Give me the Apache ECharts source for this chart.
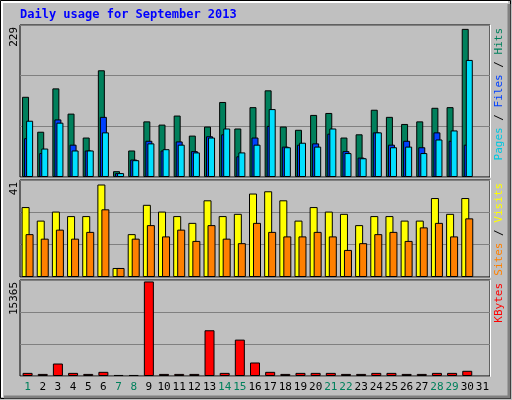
<!DOCTYPE html>
<html>
<head>
<meta charset="UTF-8">
<script src="https://cdn.jsdelivr.net/npm/echarts@6/dist/echarts.min.js"></script>
</head>
<body style="margin:0;background:#c0c0c0">
<div id="chart" style="width:512px;height:400px;"></div>
<script>
// days of the month, weekend days drawn in green
var days = [];
for (var d = 1; d <= 31; d++) days.push(String(d));
var weekend = [1, 7, 8, 14, 15, 21, 22, 28, 29];

var hits   = [124, 70, 137, 98, 61, 165, 9, 41, 86, 81, 95, 64, 78, 116, 75, 108, 134, 78, 73, 96, 99, 61, 66, 104, 93, 82, 86, 107, 108, 229];
var files  = [60, 37, 89, 50, 41, 93, 6, 27, 56, 41, 55, 40, 63, 66, 32, 61, 79, 47, 50, 52, 67, 40, 30, 69, 50, 56, 46, 69, 56, 50];
var pages  = [87, 44, 84, 41, 41, 69, 6, 26, 52, 43, 50, 38, 61, 75, 38, 50, 105, 46, 53, 47, 75, 37, 29, 69, 46, 47, 37, 58, 72, 181];
var visits = [31, 25, 29, 27, 27, 41, 4, 19, 32, 29, 27, 24, 34, 27, 28, 37, 38, 34, 25, 31, 29, 28, 23, 27, 27, 25, 25, 35, 28, 35];
var sites  = [19, 17, 21, 17, 20, 30, 4, 17, 23, 18, 21, 16, 23, 17, 15, 24, 20, 18, 18, 20, 18, 12, 15, 19, 20, 16, 22, 24, 18, 26];
var kbytes = [507, 338, 2027, 507, 338, 676, 170, 170, 15365, 338, 338, 338, 7432, 507, 5911, 2196, 676, 338, 507, 507, 507, 338, 338, 507, 507, 338, 338, 507, 507, 845];

var font = 'DejaVu Sans Mono';
// [top, height, label, axis max]
var panels = [[25, 152, 229, 235], [180, 97, 41, 43], [280, 96, 15365, 15600]];

function xAxis(i, showLabels) {
  return {
    type: 'category', gridIndex: i, data: days,
    axisLine: {show: false}, axisTick: {show: false},
    axisLabel: {
      show: showLabels, interval: 0, margin: 6, fontFamily: font, fontSize: 11,
      formatter: function (v) { return weekend.indexOf(+v) >= 0 ? '{w|' + v + '}' : '{n|' + v + '}'; },
      rich: {w: {color: '#00805c', fontFamily: font, fontSize: 11}, n: {color: '#000', fontFamily: font, fontSize: 11}}
    }
  };
}
function yAxis(i, max) {
  return {
    type: 'value', gridIndex: i, min: 0, max: max, interval: max / 3,
    axisLabel: {show: false}, axisLine: {show: false}, axisTick: {show: false},
    splitLine: {lineStyle: {color: '#808080', width: 1}}
  };
}
function bar(name, data, color, axis, width, gap) {
  return {
    name: name, type: 'bar', data: data, xAxisIndex: axis, yAxisIndex: axis,
    barWidth: width, barGap: gap, animation: false,
    itemStyle: {color: color, borderColor: '#000', borderWidth: 1}
  };
}
function vtext(x, y, parts) {
  var rich = {}, s = '';
  parts.forEach(function (p, k) {
    rich['p' + k] = {fill: p[1], fontFamily: font, fontSize: 11};
    s += '{p' + k + '|' + p[0] + '}';
  });
  return {type: 'text', x: x, y: y, rotation: Math.PI / 2,
    style: {text: s, rich: rich, fontFamily: font, fontSize: 11, align: 'right', verticalAlign: 'top'}};
}

var graphics = [
  {type: 'rect', shape: {x: 0.5, y: 0.5, width: 510, height: 398}, style: {fill: 'none', stroke: '#000'}},
  {type: 'polyline', shape: {points: [[2, 397], [2, 2], [508, 2]]}, style: {stroke: '#fff', lineWidth: 2, fill: 'none'}},
  {type: 'polyline', shape: {points: [[509, 4], [509, 397], [4, 397]]}, style: {stroke: '#808080', lineWidth: 3, fill: 'none'}},
  {type: 'text', x: 20, y: 9, style: {text: 'Daily usage for September 2013', fill: '#0000ff', fontFamily: font, fontSize: 12, fontWeight: 'bold'}}
];
panels.forEach(function (p) {
  graphics.push({type: 'polyline', shape: {points: [[490.5, p[0]], [490.5, p[0] + p[1] + 0.5], [20, p[0] + p[1] + 0.5]]},
    style: {stroke: '#fff', lineWidth: 1, fill: 'none'}});
  graphics.push({type: 'text', x: 9, y: p[0] + 2, rotation: Math.PI / 2,
    style: {text: String(p[2]), fill: '#000', fontFamily: font, fontSize: 11, align: 'right', verticalAlign: 'top'}});
});
graphics.push(vtext(494, 28, [['Pages', '#00c8e0'], [' / ', '#000'], ['Files', '#0040ff'], [' / ', '#000'], ['Hits', '#00805c']]));
graphics.push(vtext(494, 183, [['Sites', '#ff8000'], [' / ', '#000'], ['Visits', '#ffff00']]));
graphics.push(vtext(494, 283, [['KBytes', '#ff0000']]));

var option = {
  animation: false,
  backgroundColor: '#c0c0c0',
  grid: panels.map(function (p) {
    return {left: 20, right: 22, top: p[0], height: p[1], show: true, borderColor: '#000', borderWidth: 1, backgroundColor: 'transparent'};
  }),
  xAxis: [xAxis(0, false), xAxis(1, false), xAxis(2, true)],
  yAxis: [yAxis(0, panels[0][3]), yAxis(1, panels[1][3]), yAxis(2, panels[2][3])],
  graphic: graphics,
  series: [
    bar('Hits', hits, '#00805c', 0, 7, '-71%'),
    bar('Files', files, '#0040ff', 0, 7, '-71%'),
    bar('Pages', pages, '#00e0ff', 0, 7, '-71%'),
    bar('Visits', visits, '#ffff00', 1, 8, '-50%'),
    bar('Sites', sites, '#ff8000', 1, 8, '-50%'),
    bar('KBytes', kbytes, '#ff0000', 2, 10, '0%')
  ]
};
echarts.init(document.getElementById('chart')).setOption(option);
</script>
</body>
</html>
